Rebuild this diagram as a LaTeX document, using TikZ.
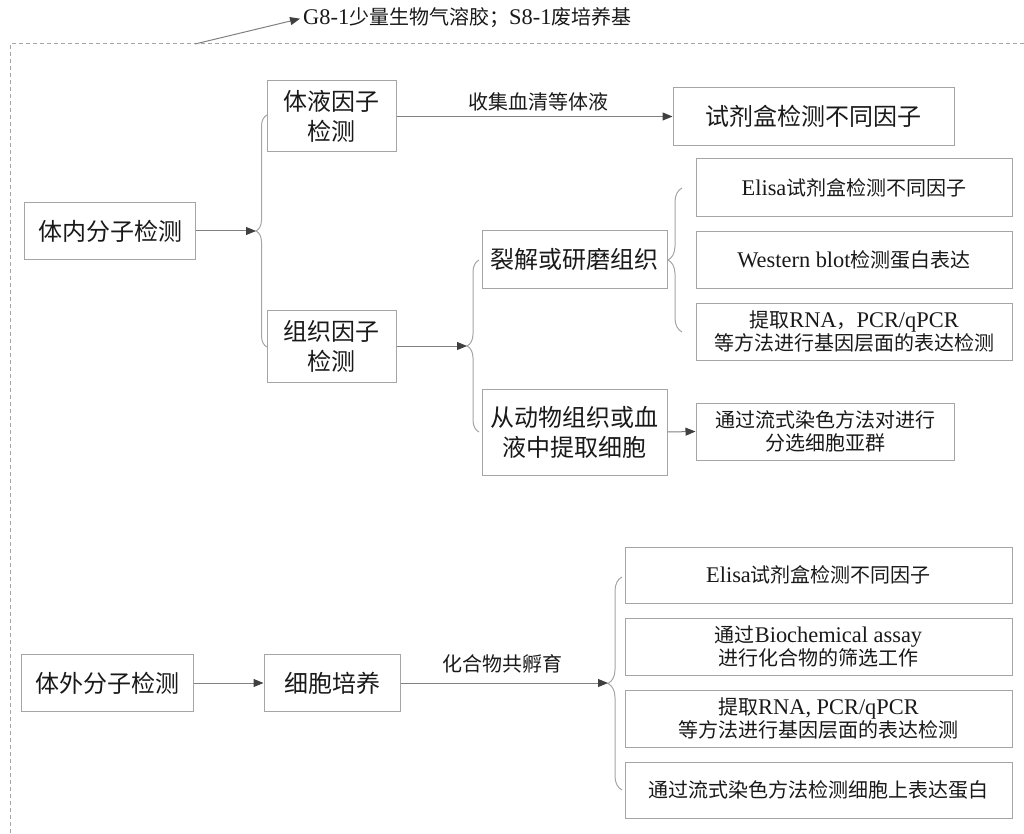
\documentclass[tikz,border=0pt]{standalone}
\usepackage{fontspec}
\setmainfont[Scale=1.12]{Liberation Serif}
\newfontfamily\cjk{Noto Sans CJK SC}
\newcommand{\en}[1]{{\rmfamily #1}}
\usetikzlibrary{arrows.meta,decorations.pathreplacing}

\begin{document}
\begin{tikzpicture}[x=1pt,y=-1pt,
    box/.style={shape=rectangle,draw=boxgray,line width=1pt,align=center,inner sep=0pt,text=black!90},
    bigtxt/.style={font=\cjk\fontsize{24}{30}\selectfont},
    smalltxt/.style={font=\cjk\fontsize{20}{23.5}\selectfont},
    lbl/.style={font=\cjk\fontsize{20}{24}\selectfont,text=black!90,inner sep=0pt},
    arr/.style={draw=linegray,line width=1pt,-{Triangle[length=10pt,width=8pt,color=tipgray]}},
    brc/.style={draw=boxgray,line width=1pt,decorate,decoration={brace,amplitude=#1pt}}]
    \definecolor{boxgray}{RGB}{165,165,165}
    \definecolor{linegray}{RGB}{128,128,128}
    \definecolor{tipgray}{RGB}{64,64,64}
    \useasboundingbox (0,0) rectangle (1024,834);
    % dashed frame
    \draw[draw=boxgray,line width=1pt,dash pattern=on 4pt off 3pt] (1024,44) -- (10,44) -- (10,834);
    \coordinate (framept) at (195,44);
    \node[lbl,anchor=west] (note) at (303,18) {\en{G8-1}少量生物气溶胶；\en{S8-1}废培养基};
    \draw[arr,shorten >=3pt] (framept) -- (note.west);

    % in vivo
    \node[box,bigtxt,minimum width=171pt,minimum height=57pt] (invivo) at (110,231) {体内分子检测};
    \node[box,bigtxt,minimum width=129pt,minimum height=71pt] (fluid) at (331.5,116.5) {体液因子\\检测};
    \node[box,bigtxt,minimum width=129pt,minimum height=72pt] (tissue) at (331.5,346) {组织因子\\检测};
    \node[box,bigtxt,minimum width=281pt,minimum height=58pt] (kit) at (813.5,116.5) {试剂盒检测不同因子};
    \node[box,bigtxt,minimum width=185pt,minimum height=57pt] (lyse) at (574.5,259.5) {裂解或研磨组织};
    \node[box,bigtxt,minimum width=185pt,minimum height=86pt] (extract) at (574.5,432) {从动物组织或血\\液中提取细胞};
    \node[box,smalltxt,minimum width=316pt,minimum height=58pt] (elisaA) at (854,188) {\en{Elisa}试剂盒检测不同因子};
    \node[box,smalltxt,minimum width=316pt,minimum height=56pt] (western) at (854,260) {\en{Western blot}检测蛋白表达};
    \node[box,smalltxt,minimum width=316pt,minimum height=57pt] (rnaA) at (854,331.5) {提取\en{RNA}，\en{PCR/qPCR}\\等方法进行基因层面的表达检测};
    \node[box,smalltxt,minimum width=258pt,minimum height=57pt] (sortA) at (825,431.5) {通过流式染色方法对进行\\分选细胞亚群};
    \node[lbl] (collect) at (538,102) {收集血清等体液};

    \coordinate (tipA) at (256,231);
    \coordinate (tipB) at (467,346);
    \coordinate (tipC) at (668,260);
    \draw[brc=11] (267,347) -- (267,115);
    \draw[brc=12] (479,432) -- (479,260);
    \draw[brc=14] (682,332) -- (682,188);
    \draw[arr] (invivo.east) -- (tipA);
    \draw[arr] (fluid.east) -- (kit.west);
    \draw[arr] (tissue.east) -- (tipB);
    \draw[arr] (extract.east) -- (sortA.west);

    % in vitro
    \node[box,bigtxt,minimum width=172pt,minimum height=57pt] (invitro) at (107,683) {体外分子检测};
    \node[box,bigtxt,minimum width=136pt,minimum height=57pt] (culture) at (332,683) {细胞培养};
    \node[box,smalltxt,minimum width=387pt,minimum height=56pt] (elisaB) at (818.5,575) {\en{Elisa}试剂盒检测不同因子};
    \node[box,smalltxt,minimum width=387pt,minimum height=57pt] (biochem) at (818.5,646.5) {通过\en{Biochemical assay}\\进行化合物的筛选工作};
    \node[box,smalltxt,minimum width=387pt,minimum height=57pt] (rnaB) at (818.5,718.5) {提取\en{RNA, PCR/qPCR}\\等方法进行基因层面的表达检测};
    \node[box,smalltxt,minimum width=387pt,minimum height=56pt] (flowB) at (818.5,790) {通过流式染色方法检测细胞上表达蛋白};
    \node[lbl] (incub) at (502,664) {化合物共孵育};

    \coordinate (tipD) at (608,683);
    \draw[brc=14] (622,790) -- (622,577);
    \draw[arr] (invitro) -- (culture);
    \draw[arr] (culture.east) -- (tipD);
\end{tikzpicture}
\end{document}
